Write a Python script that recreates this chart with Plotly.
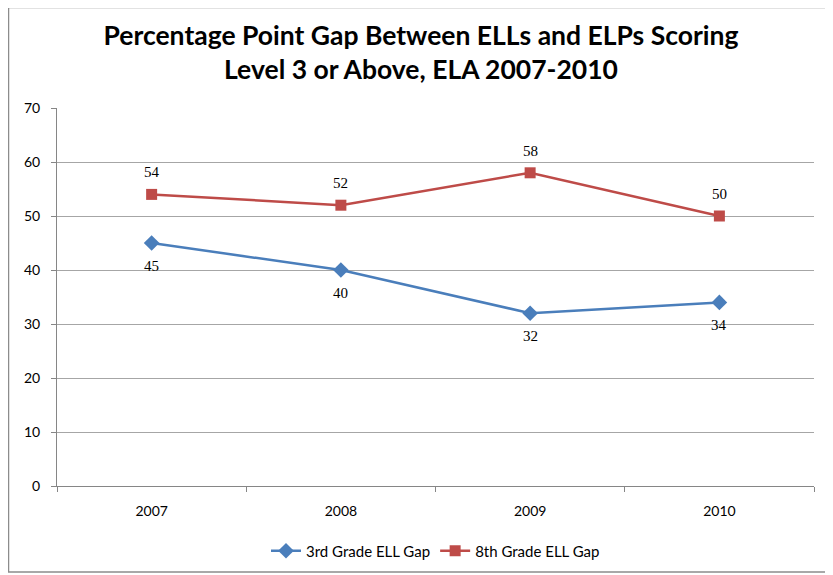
import plotly.graph_objects as go

years = ["2007", "2008", "2009", "2010"]
third_grade = [45, 40, 32, 34]
eighth_grade = [54, 52, 58, 50]
y_ticks = [0, 10, 20, 30, 40, 50, 60, 70]

OFF = 8  # page body margin
W, H = 825, 567
ml, mt = 57 - OFF, 108 - OFF
mr = W + OFF - 814
mb = H + OFF - 486
pw, ph = W - ml - mr, H - mt - mb

BLUE = "#4a7ebb"
RED = "#be4b48"

fig = go.Figure()
fig.add_trace(go.Scatter(
    x=years, y=third_grade, name="3rd Grade ELL Gap",
    mode="lines+markers",
    line=dict(color=BLUE, width=2.5),
    marker=dict(symbol="diamond", size=12, color=BLUE),
))
fig.add_trace(go.Scatter(
    x=years, y=eighth_grade, name="8th Grade ELL Gap",
    mode="lines+markers",
    line=dict(color=RED, width=2.5),
    marker=dict(symbol="square", size=11, color=RED),
))

lab_font = dict(family="Liberation Serif", size=15, color="#000000")
for i, v in enumerate(third_grade):
    fig.add_annotation(x=i, y=v, xref="x", yref="y", text=str(v),
                       showarrow=False, yshift=-23, font=lab_font)
for i, v in enumerate(eighth_grade):
    fig.add_annotation(x=i, y=v, xref="x", yref="y", text=str(v),
                       showarrow=False, yshift=22, font=lab_font)

def px_x(x):
    return (x - OFF - ml) / pw

def px_y(y):
    return (H - mb - (y - OFF)) / ph

fig.add_shape(type="rect", xref="paper", yref="paper",
              x0=px_x(8.5), x1=px_x(830), y0=px_y(572), y1=px_y(7.5),
              line=dict(color="#8c8c8c", width=1.5), layer="below")

fig.update_layout(
    width=W, height=H,
    margin=dict(l=ml, r=mr, t=mt, b=mb, autoexpand=False),
    paper_bgcolor="white", plot_bgcolor="white",
    title=dict(
        text="<b>Percentage Point Gap Between ELLs and ELPs Scoring</b><br><b>Level 3 or Above, ELA 2007-2010</b>",
        x=(421 - OFF) / W, xanchor="center", y=1 - (45 - OFF) / H, yanchor="middle",
        font=dict(family="Lato", size=26.5, color="#000000"),
    ),
    showlegend=True,
    legend=dict(orientation="h", x=0.5, xanchor="center",
                y=-(551 - 486) / ph, yanchor="middle",
                font=dict(family="Lato", size=15, color="#000000"),
                itemwidth=30),
    font=dict(family="Lato", size=13, color="#000000"),
)
fig.update_xaxes(
    type="category", range=[-0.5, 3.5],
    showline=True, linecolor="#868686", linewidth=1,
    ticks="outside", ticklen=5, tickcolor="#868686",
    tickson="boundaries", showgrid=False,
    ticklabelstandoff=12,
    tickfont=dict(family="Lato", size=14, color="#000000"),
)
fig.update_yaxes(
    range=[0, 70], tickvals=y_ticks,
    showline=True, linecolor="#868686", linewidth=1,
    ticks="outside", ticklen=5, tickcolor="#868686",
    showgrid=True, gridcolor="#a6a6a6", gridwidth=1,
    zeroline=False,
    ticklabelstandoff=8,
    tickfont=dict(family="Lato", size=14, color="#000000"),
)
fig.write_html("out.html")
